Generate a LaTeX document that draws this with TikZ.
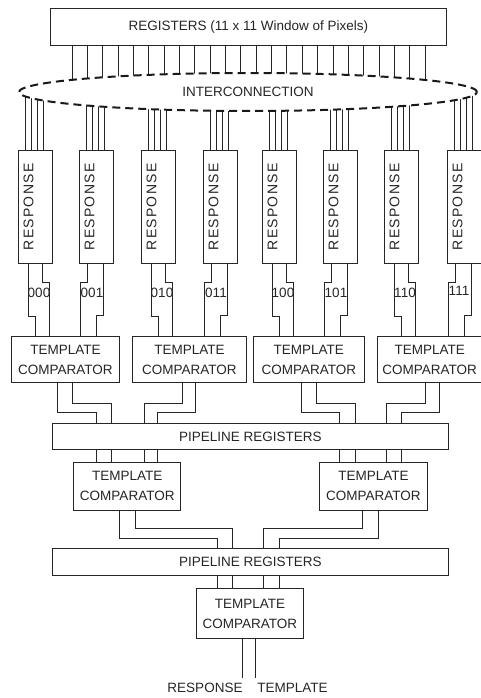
\documentclass[tikz,border=0pt]{standalone}
\usepackage{fontspec}
\setmainfont{Liberation Sans}
\newfontfamily\spacedfont[LetterSpace=9]{Liberation Sans}
\usetikzlibrary{shapes.geometric}
\pgfdeclarelayer{wires}
\pgfsetlayers{wires,main}

\begin{document}
\begin{tikzpicture}[x=1pt,y=-1pt,
  every node/.style={font=\fontsize{13.5}{20}\selectfont, inner sep=0pt, text=black!85},
  block/.style={draw=black!85, line width=0.9pt, anchor=north west, fill=white},
  comparator/.style={block, align=center, minimum height=46pt},
  pipeline/.style={block, minimum width=395.4pt},
  respbox/.style={block, minimum width=34pt, minimum height=113pt},
  resptext/.style={rotate=90, font=\spacedfont\fontsize{14}{16}\selectfont},
  wire/.style={draw=black!85, line width=0.9pt},
  bus/.style={draw=black!90, line width=2pt, dash pattern=on 8pt off 5pt}]
\useasboundingbox (0,0) rectangle (480,698);

% register file and interconnection network
\node[block, minimum width=396pt, minimum height=37pt] (reg) at (50,8)
  {REGISTERS (11 x 11 Window of Pixels)};
\node[ellipse, bus, fill=white, minimum width=458pt, minimum height=38pt] (ic) at (248,92)
  {INTERCONNECTION};

% response units
\foreach \i/\L in {1/18,2/79,3/141,4/203,5/262,6/323,7/384,8/447}{
  \node[respbox] (r\i) at (\L,150) {};
  \node[resptext] (rt\i) at ([xshift=-7pt]r\i.center) {RESPONSE};
}

% first stage comparators
\node[comparator, minimum width=108pt]   (tc1) at (11,336)    {TEMPLATE\\COMPARATOR};
\node[comparator, minimum width=114pt]   (tc2) at (132,336)   {TEMPLATE\\COMPARATOR};
\node[comparator, minimum width=111.3pt] (tc3) at (252.7,336) {TEMPLATE\\COMPARATOR};
\node[comparator, minimum width=105pt]   (tc4) at (376.7,336) {TEMPLATE\\COMPARATOR};

\node[pipeline, minimum height=26.6pt] (p1) at (52.3,422.7) {PIPELINE REGISTERS};

% second stage comparators
\node[comparator, minimum width=107pt, minimum height=48.3pt]   (tc5) at (73.3,461.7)  {TEMPLATE\\COMPARATOR};
\node[comparator, minimum width=107.4pt, minimum height=48.3pt] (tc6) at (319.3,461.7) {TEMPLATE\\COMPARATOR};

\node[pipeline, minimum height=27.3pt] (p2) at (52.3,547.7) {PIPELINE REGISTERS};

% final comparator
\node[comparator, minimum width=107.6pt, minimum height=50pt] (tc7) at (195.7,588.3) {TEMPLATE\\COMPARATOR};

% response codes
\foreach \i/\t/\dx/\dy in {1/000/21/29, 2/001/13/29, 3/010/21/29, 4/011/13/29,
                           5/100/21/29, 6/101/13/29, 7/110/21/29, 8/111/12/27}{
  \node (lab\i) at ([xshift=\dx*1pt, yshift=-\dy*1pt]r\i.south west) {\t};
}

% output names
\node (lr) at (205,688.3) {RESPONSE};
\node (lt) at (292.5,688.3) {TEMPLATE};

\begin{pgfonlayer}{wires}
  % register outputs into the interconnection
  \foreach \k in {0,...,23}{
    \coordinate (rw\k) at ([xshift={(22+15.35*\k)*1pt}]reg.south west);
    \draw[wire] (rw\k) -- (rw\k |- ic.center);
  }
  % interconnection into the response units
  \foreach \i in {1,...,8}{
    \foreach \o in {7,13,19,25}{
      \coordinate (iw) at ([xshift=\o*1pt]r\i.north west);
      \draw[wire] (iw) -- (iw |- ic.center);
    }
  }
  % response units into the first comparators (odd units jog right, even jog left)
  \foreach \i/\c in {1/tc1,3/tc2,5/tc3,7/tc4}{
    \draw[wire] ([xshift=10pt]r\i.south west) -- ++(0,53) -- ++(7,0) coordinate (t) -- (t |- \c.north);
    \draw[wire] ([xshift=24pt]r\i.south west) -- ++(0,19) -- ++(7,0) coordinate (t) -- (t |- \c.north);
  }
  \foreach \i/\c in {2/tc1,4/tc2,6/tc3,8/tc4}{
    \draw[wire] ([xshift=8pt]r\i.south west)  -- ++(0,19) -- ++(-7,0) coordinate (t) -- (t |- \c.north);
    \draw[wire] ([xshift=24pt]r\i.south west) -- ++(0,52) -- ++(-7,0) coordinate (t) -- (t |- \c.north);
  }
  % first comparators into the pipeline registers
  \draw[wire] ([xshift=46.7pt]tc1.south west) -- ++(0,30) -- ++(39,0)   coordinate (c1) -- (c1 |- p1.north);
  \draw[wire] ([xshift=61.7pt]tc1.south west) -- ++(0,21) -- ++(39,0)   coordinate (c2) -- (c2 |- p1.north);
  \draw[wire] ([xshift=50.7pt]tc2.south west) -- ++(0,21) -- ++(-38.7,0) coordinate (c3) -- (c3 |- p1.north);
  \draw[wire] ([xshift=63.7pt]tc2.south west) -- ++(0,30) -- ++(-38.4,0) coordinate (c4) -- (c4 |- p1.north);
  \draw[wire] ([xshift=48.3pt]tc3.south west) -- ++(0,30) -- ++(38.3,0)  coordinate (c5) -- (c5 |- p1.north);
  \draw[wire] ([xshift=64pt]tc3.south west)   -- ++(0,21) -- ++(38.3,0)  coordinate (c6) -- (c6 |- p1.north);
  \draw[wire] ([xshift=49pt]tc4.south west)   -- ++(0,21) -- ++(-39,0)   coordinate (c7) -- (c7 |- p1.north);
  \draw[wire] ([xshift=62.6pt]tc4.south west) -- ++(0,30) -- ++(-38.3,0) coordinate (c8) -- (c8 |- p1.north);
  % pipeline registers into the second comparators
  \foreach \c in {c1,c2,c3,c4}{ \draw[wire] (\c |- p1.south) -- (\c |- tc5.north); }
  \foreach \c in {c5,c6,c7,c8}{ \draw[wire] (\c |- p1.south) -- (\c |- tc6.north); }
  % second comparators into the pipeline registers
  \draw[wire] ([xshift=46pt]tc5.south west)   -- ++(0,27.3) -- ++(98,0)    coordinate (d1) -- (d1 |- p2.north);
  \draw[wire] ([xshift=61.7pt]tc5.south west) -- ++(0,17.3) -- ++(97.3,0)  coordinate (d2) -- (d2 |- p2.north);
  \draw[wire] ([xshift=43.4pt]tc6.south west) -- ++(0,17.3) -- ++(-99.4,0) coordinate (d3) -- (d3 |- p2.north);
  \draw[wire] ([xshift=59pt]tc6.south west)   -- ++(0,27.3) -- ++(-99.3,0) coordinate (d4) -- (d4 |- p2.north);
  \foreach \c in {d1,d2,d3,d4}{ \draw[wire] (\c |- p2.south) -- (\c |- tc7.north); }
  % final outputs
  \coordinate (outR) at ([xshift=46.6pt, yshift=-38.4pt]tc7.south west);
  \coordinate (outT) at ([xshift=59.6pt, yshift=-38.4pt]tc7.south west);
  \draw[wire] (outR |- tc7.south) -- (outR);
  \draw[wire] (outT |- tc7.south) -- (outT);
\end{pgfonlayer}
\end{tikzpicture}
\end{document}
